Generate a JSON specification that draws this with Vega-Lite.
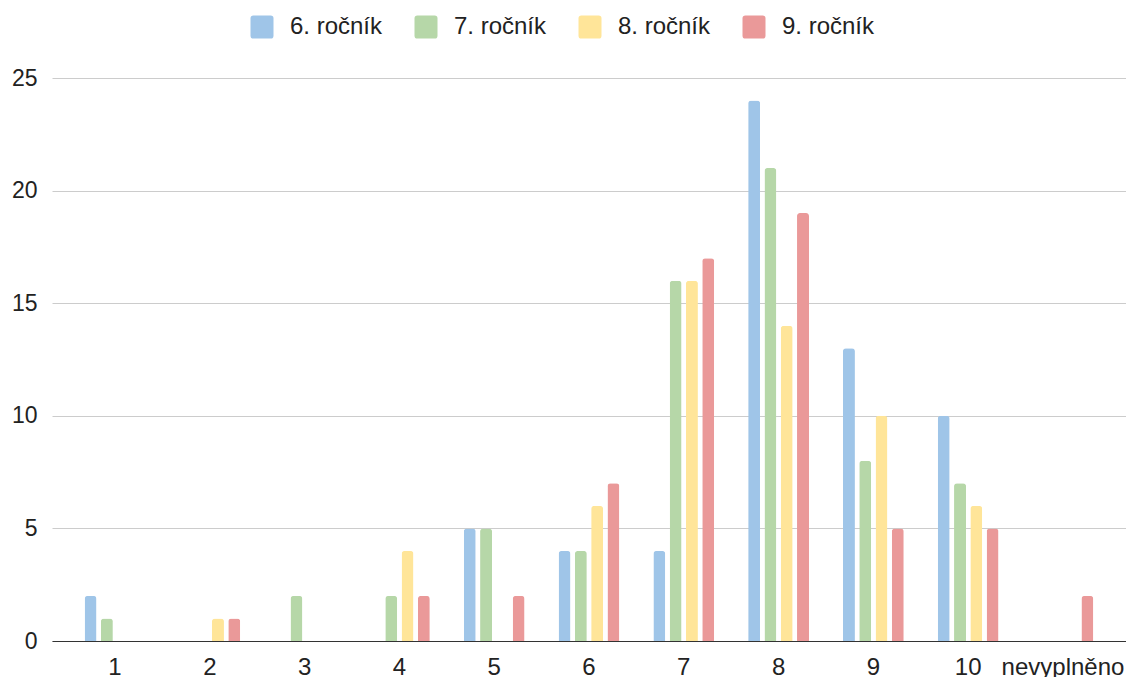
{
  "$schema": "https://vega.github.io/schema/vega-lite/v6.json",
  "width": 1074,
  "height": 563,
  "autosize": {"type": "none"},
  "padding": {"left": 52, "top": 78, "right": 0, "bottom": 36},
  "background": "#ffffff",
  "data": {
    "values": [
      {"kategorie": "1", "rocnik": "6. ročník", "pocet": 2},
      {"kategorie": "1", "rocnik": "7. ročník", "pocet": 1},
      {"kategorie": "1", "rocnik": "8. ročník", "pocet": 0},
      {"kategorie": "1", "rocnik": "9. ročník", "pocet": 0},
      {"kategorie": "2", "rocnik": "6. ročník", "pocet": 0},
      {"kategorie": "2", "rocnik": "7. ročník", "pocet": 0},
      {"kategorie": "2", "rocnik": "8. ročník", "pocet": 1},
      {"kategorie": "2", "rocnik": "9. ročník", "pocet": 1},
      {"kategorie": "3", "rocnik": "6. ročník", "pocet": 0},
      {"kategorie": "3", "rocnik": "7. ročník", "pocet": 2},
      {"kategorie": "3", "rocnik": "8. ročník", "pocet": 0},
      {"kategorie": "3", "rocnik": "9. ročník", "pocet": 0},
      {"kategorie": "4", "rocnik": "6. ročník", "pocet": 0},
      {"kategorie": "4", "rocnik": "7. ročník", "pocet": 2},
      {"kategorie": "4", "rocnik": "8. ročník", "pocet": 4},
      {"kategorie": "4", "rocnik": "9. ročník", "pocet": 2},
      {"kategorie": "5", "rocnik": "6. ročník", "pocet": 5},
      {"kategorie": "5", "rocnik": "7. ročník", "pocet": 5},
      {"kategorie": "5", "rocnik": "8. ročník", "pocet": 0},
      {"kategorie": "5", "rocnik": "9. ročník", "pocet": 2},
      {"kategorie": "6", "rocnik": "6. ročník", "pocet": 4},
      {"kategorie": "6", "rocnik": "7. ročník", "pocet": 4},
      {"kategorie": "6", "rocnik": "8. ročník", "pocet": 6},
      {"kategorie": "6", "rocnik": "9. ročník", "pocet": 7},
      {"kategorie": "7", "rocnik": "6. ročník", "pocet": 4},
      {"kategorie": "7", "rocnik": "7. ročník", "pocet": 16},
      {"kategorie": "7", "rocnik": "8. ročník", "pocet": 16},
      {"kategorie": "7", "rocnik": "9. ročník", "pocet": 17},
      {"kategorie": "8", "rocnik": "6. ročník", "pocet": 24},
      {"kategorie": "8", "rocnik": "7. ročník", "pocet": 21},
      {"kategorie": "8", "rocnik": "8. ročník", "pocet": 14},
      {"kategorie": "8", "rocnik": "9. ročník", "pocet": 19},
      {"kategorie": "9", "rocnik": "6. ročník", "pocet": 13},
      {"kategorie": "9", "rocnik": "7. ročník", "pocet": 8},
      {"kategorie": "9", "rocnik": "8. ročník", "pocet": 10},
      {"kategorie": "9", "rocnik": "9. ročník", "pocet": 5},
      {"kategorie": "10", "rocnik": "6. ročník", "pocet": 10},
      {"kategorie": "10", "rocnik": "7. ročník", "pocet": 7},
      {"kategorie": "10", "rocnik": "8. ročník", "pocet": 6},
      {"kategorie": "10", "rocnik": "9. ročník", "pocet": 5},
      {"kategorie": "nevyplněno", "rocnik": "6. ročník", "pocet": 0},
      {"kategorie": "nevyplněno", "rocnik": "7. ročník", "pocet": 0},
      {"kategorie": "nevyplněno", "rocnik": "8. ročník", "pocet": 0},
      {"kategorie": "nevyplněno", "rocnik": "9. ročník", "pocet": 2}
    ]
  },
  "mark": {"type": "bar", "cornerRadiusTopLeft": 3, "cornerRadiusTopRight": 3},
  "encoding": {
    "x": {
      "field": "kategorie",
      "type": "nominal",
      "sort": ["1", "2", "3", "4", "5", "6", "7", "8", "9", "10", "nevyplněno"],
      "scale": {"paddingInner": 0.358, "paddingOuter": 0.344},
      "axis": {
        "title": null,
        "labelAngle": 0,
        "ticks": false,
        "tickSize": 0,
        "labelPadding": 14,
        "labelFont": "Liberation Sans",
        "labelFontSize": 24,
        "labelColor": "#222222",
        "labelOverlap": false,
        "labelLimit": 0,
        "domainColor": "#333333",
        "domainWidth": 1,
        "grid": false
      }
    },
    "xOffset": {
      "field": "rocnik",
      "type": "nominal",
      "sort": ["6. ročník", "7. ročník", "8. ročník", "9. ročník"],
      "scale": {"paddingInner": 0.264, "paddingOuter": 0}
    },
    "y": {
      "field": "pocet",
      "type": "quantitative",
      "scale": {"domain": [0, 25], "nice": false},
      "axis": {
        "title": null,
        "values": [0, 5, 10, 15, 20, 25],
        "domain": false,
        "ticks": false,
        "tickSize": 0,
        "labelPadding": 15,
        "labelFont": "Liberation Sans",
        "labelFontSize": 23,
        "labelColor": "#222222",
        "gridColor": "#cccccc",
        "gridWidth": 1
      }
    },
    "color": {
      "field": "rocnik",
      "type": "nominal",
      "sort": ["6. ročník", "7. ročník", "8. ročník", "9. ročník"],
      "scale": {
        "domain": ["6. ročník", "7. ročník", "8. ročník", "9. ročník"],
        "range": ["#9fc5e8", "#b6d7a8", "#ffe599", "#ea9999"]
      },
      "legend": {
        "title": null,
        "orient": "none",
        "direction": "horizontal",
        "legendX": 198,
        "legendY": -63,
        "padding": 0,
        "columns": 4,
        "gridAlign": "all",
        "columnPadding": 31,
        "symbolType": "M-0.75,-1H0.75Q1,-1 1,-0.75V0.75Q1,1 0.75,1H-0.75Q-1,1 -1,0.75V-0.75Q-1,-1 -0.75,-1Z",
        "symbolSize": 529,
        "symbolStrokeWidth": 0,
        "symbolOpacity": 1,
        "labelOffset": 16,
        "labelFont": "Liberation Sans",
        "labelFontSize": 24,
        "labelColor": "#222222",
        "labelLimit": 0
      }
    }
  },
  "config": {
    "view": {"stroke": null},
    "font": "Liberation Sans"
  }
}
